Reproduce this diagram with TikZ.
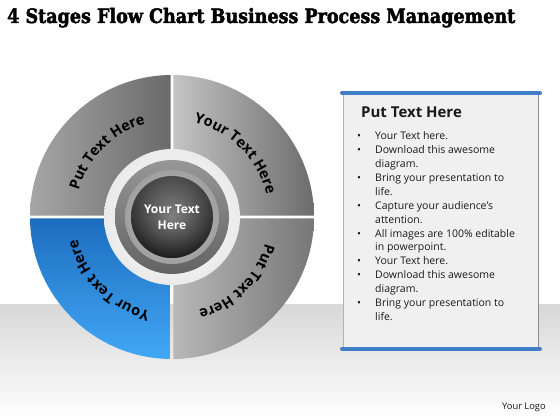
\documentclass[tikz,border=0pt]{standalone}
\usepackage{fontspec}
\usetikzlibrary{decorations.text,calc}
\newfontfamily\titlefont{DejaVu Serif}[UprightFont={* Bold}, FakeBold=2.5]
\newfontfamily\opens{Open Sans}
\definecolor{band}{HTML}{D8D8D8}
\definecolor{qAl}{HTML}{A6A6A6}
\definecolor{qAr}{HTML}{6A6A6A}
\definecolor{qBl}{HTML}{C4C4C4}
\definecolor{qBr}{HTML}{6C6C6C}
\definecolor{qCl}{HTML}{B8B8B8}
\definecolor{qCr}{HTML}{777777}
\definecolor{qDt}{HTML}{1C6CBF}
\definecolor{qDb}{HTML}{42A8F5}
\definecolor{ringA}{HTML}{7C7C7C}
\definecolor{ringB}{HTML}{BDBDBD}
\definecolor{coreT}{HTML}{7A7A7A}
\definecolor{coreB}{HTML}{1C1C1C}
\definecolor{panelbg}{HTML}{F0F0F0}
\definecolor{barblue}{HTML}{3F7EC6}
\definecolor{txt}{HTML}{1A1A1A}
\tikzset{
  arctext/.style={decorate, decoration={text along path, text align=center,
     text={|\opens\bfseries\fontsize{14.5}{16}\selectfont|#1}}},
  linetext/.style={anchor=base west, inner sep=0, font=\opens\fontsize{10.5}{12}\selectfont, text=txt},
}
\begin{document}
\begin{tikzpicture}[x=1pt,y=1pt]
\useasboundingbox (0,0) rectangle (560,420);
\fill[white] (0,0) rectangle (560,420);
\shade[top color=band, bottom color=white] (0,0) rectangle (560,115);
% title
\node[anchor=base west, inner sep=0] (title) at (7,397) {\resizebox{508pt}{15pt}{\titlefont 4 Stages Flow Chart Business Process Management}};
% wheel
\coordinate (C) at (172,203);
\shade[left color=qAl, right color=qAr] ([shift={(-1.5,1.5)}]C) -- ([shift={(179.4:142)}]C) arc[start angle=179.4, end angle=90.6, radius=142] -- cycle;
\shade[left color=qBl, right color=qBr] ([shift={(1.5,1.5)}]C) -- ([shift={(89.4:142)}]C) arc[start angle=89.4, end angle=0.6, radius=142] -- cycle;
\shade[left color=qCl, right color=qCr] ([shift={(1.5,-1.5)}]C) -- ([shift={(-0.6:142)}]C) arc[start angle=-0.6, end angle=-89.4, radius=142] -- cycle;
\shade[top color=qDt, bottom color=qDb] ([shift={(-1.5,-1.5)}]C) -- ([shift={(-90.6:142)}]C) arc[start angle=-90.6, end angle=-179.4, radius=142] -- cycle;
% arc texts
\path[arctext={Put Text Here}] ([shift={(195:97)}]C) arc[start angle=195, end angle=75, radius=97];
\path[arctext={Your Text Here}] ([shift={(105:97)}]C) arc[start angle=105, end angle=-15, radius=97];
\path[arctext={Put Text Here}] ([shift={(15:97)}]C) arc[start angle=15, end angle=-105, radius=97];
\path[arctext={Your Text Here}] ([shift={(-75:97)}]C) arc[start angle=-75, end angle=-195, radius=97];
% centre rings
\shade[inner color=white, outer color=white!92!black] (C) circle[radius=68];
\shade[top color=ringA!80!white, bottom color=ringA!80!black] (C) circle[radius=57];
\shade[inner color=ringB, outer color=ringB!85!black] (C) circle[radius=47];
\shade[top color=coreT, bottom color=coreB] (C) circle[radius=41];
\shade[inner color=white!45!coreT, outer color=coreB, opacity=0.5] (C) circle[radius=41];
\node[text=white, font=\opens\bfseries\fontsize{12}{16}\selectfont, align=center] (core) at (C) {Your Text\\Here};
% panel
\fill[panelbg] (343,73) rectangle (539,325);
\draw[black!30, line width=1.2] (343.5,73) -- (343.5,325);
\draw[black!45, line width=1.8] (538.5,73) -- (538.5,325);
\draw[barblue, line width=4, line cap=round] (342,327) -- (540,327);
\draw[barblue, line width=4, line cap=round] (342,71) -- (540,71);
\node[anchor=base west, inner sep=0, font=\opens\bfseries\fontsize{15}{18}\selectfont, text=txt] (ptitle) at (361,302) {Put Text Here};
\foreach \t/\b [count=\i] in {Your Text here./1, Download this awesome/1, diagram./0, Bring your presentation to/1, life./0, Capture your audience’s/1, attention./0, All images are 100\% editable/1, in powerpoint./0, Your Text here./1, Download this awesome/1, diagram./0, Bring your presentation to/1, life./0}{
  \pgfmathsetmacro{\yy}{280-(\i-1)*13.86}
  \node[linetext] (line\i) at (375,\yy) {\t};
  \ifnum\b=1 \node[linetext] (bul\i) at (357,\yy) {•};\fi
}
\node[linetext, font=\opens\fontsize{9.3}{11}\selectfont] (logo) at (502,10) {Your Logo};
\end{tikzpicture}
\end{document}
